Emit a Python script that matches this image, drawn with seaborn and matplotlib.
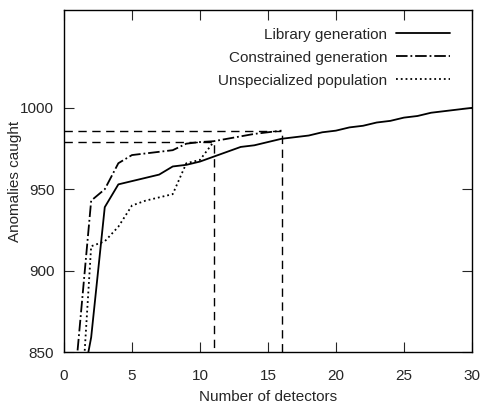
import numpy as np
import pandas as pd
import matplotlib
matplotlib.use("Agg")
import matplotlib.pyplot as plt
import seaborn as sns

lib_x = list(range(1, 31))
lib_y = [815, 859, 939, 953, 955, 957, 959, 964, 965, 967, 970, 973, 976, 977, 979,
         981, 982, 983, 985, 986, 988, 989, 991, 992, 994, 995, 997, 998, 999, 1000]
con_x = list(range(1, 17))
con_y = [851, 943, 950, 966, 971, 972, 973, 974, 978, 979, 979.5, 981, 982.5, 984, 985, 986]
uns_x = list(range(1, 12))
uns_y = [780, 915, 918, 927, 940, 943, 945, 947, 966, 968, 979]

labels = ["Library generation", "Constrained generation", "Unspecialized population"]
x_ticks = [0, 5, 10, 15, 20, 25, 30]
y_ticks = [850, 900, 950, 1000]

sns.set_style("ticks")
plt.rcParams['font.family'] = ['Liberation Sans', 'DejaVu Sans']
plt.rcParams['font.size'] = 11

fig, ax = plt.subplots(figsize=(4.81, 4.07), dpi=100)
fig.subplots_adjust(left=0.133, right=0.981, top=0.975, bottom=0.135)

sns.lineplot(x=lib_x, y=lib_y, ax=ax, color="black", lw=1.3, linestyle="-", label=labels[0])
sns.lineplot(x=con_x, y=con_y, ax=ax, color="black", lw=1.3, linestyle="-.", label=labels[1])
sns.lineplot(x=uns_x, y=uns_y, ax=ax, color="black", lw=1.3, linestyle=":", label=labels[2])

ymin = y_ticks[0]
for xs, ys in [(uns_x, uns_y), (con_x, con_y)]:
    ax.plot([0, xs[-1], xs[-1]], [ys[-1], ys[-1], ymin], color="black", lw=1.0,
            linestyle=(0, (6, 4)))

ax.set_xlim(0, 30)
ax.set_ylim(850, 1060)
ax.set_xticks(x_ticks)
ax.set_yticks(y_ticks)
ax.tick_params(direction="in", top=True, right=True, length=7, width=0.8, labelsize=11)
ax.tick_params(axis="x", pad=12)
ax.tick_params(axis="y", pad=7)
for s in ax.spines.values():
    s.set_linewidth(1.0)
    s.set_color("black")

ax.set_xlabel("Number of detectors", fontsize=11, labelpad=5)
ax.set_ylabel("Anomalies caught", fontsize=11)
ax.yaxis.set_label_coords(-0.103, 0.5)

ax.legend(loc="upper right", bbox_to_anchor=(0.983, 0.994), frameon=False,
          markerfirst=False, fontsize=11, handlelength=3.5, handletextpad=0.6,
          labelspacing=0.6, borderaxespad=0.6)

fig.savefig("out.png", dpi=100)
